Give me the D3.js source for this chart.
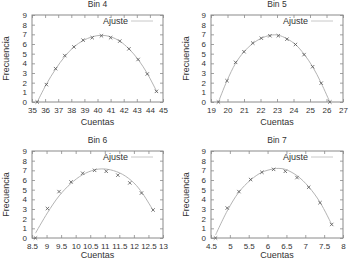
<!DOCTYPE html>
<html><head><meta charset="utf-8">
<script src="https://cdn.jsdelivr.net/npm/d3@7"></script>
<style>body{margin:0;background:#fff}svg{display:block}text{font-family:"Liberation Sans",Arial,sans-serif;fill:#333}</style>
</head><body><svg id="c" width="349" height="261"></svg>
<script>
// Panel titles and axes
const titles = ["Bin 4", "Bin 5", "Bin 6", "Bin 7"];
const xDomains = [[35, 45], [19, 27], [8.5, 13], [4.5, 8]];
const xTicks = [
  [35,36,37,38,39,40,41,42,43,44,45],
  [19,20,21,22,23,24,25,26,27],
  [8.5,9,9.5,10,10.5,11,11.5,12,12.5,13],
  [4.5,5,5.5,6,6.5,7,7.5,8]
];
const yTicks = [0,1,2,3,4,5,6,7,8,9];

// Measured points (Cuentas, Frecuencia)
const bin4X = [35.4,36.1,36.8,37.5,38.2,38.9,39.6,40.3,41.0,41.7,42.4,43.1,43.8,44.5];
const bin4Y = [0,1.8,3.45,4.8,5.7,6.4,6.65,6.85,6.65,6.3,5.5,4.4,2.9,1.1];
const bin5X = [19.45,19.97,20.49,21.0,21.53,22.05,22.57,23.08,23.6,24.12,24.64,25.16,25.68,26.2];
const bin5Y = [0,2.2,4.1,5.2,6.1,6.6,6.85,6.85,6.5,5.95,4.9,3.65,1.95,0];
const bin6X = [8.62,9.03,9.43,9.84,10.24,10.65,11.05,11.45,11.86,12.26,12.66];
const bin6Y = [0,3.05,4.8,5.8,6.7,7.0,6.9,6.5,5.7,4.65,2.9];
const bin7X = [4.62,4.93,5.24,5.55,5.85,6.16,6.47,6.78,7.09,7.39,7.7];
const bin7Y = [0,3.1,4.8,6.05,6.8,7.1,6.9,6.25,5.25,3.65,1.4];

// Fit curve ("Ajuste")
const fit4X = [35.4,36.1,36.8,37.5,38.2,38.9,39.6,40.3,41.0,41.7,42.4,43.1,43.8,44.55];
const fit4Y = [0,1.85,3.4,4.7,5.7,6.35,6.75,6.9,6.75,6.3,5.5,4.4,2.95,1.0];
const fit5X = [19.45,19.97,20.49,21.0,21.53,22.05,22.57,22.85,23.08,23.6,24.12,24.64,25.16,25.68,26.2];
const fit5Y = [0,2.2,4.0,5.2,6.05,6.6,6.9,6.95,6.92,6.55,5.95,4.95,3.65,1.95,0];
const fit6X = [8.62,9.03,9.43,9.84,10.24,10.65,10.9,11.2,11.6,12.0,12.3,12.66];
const fit6Y = [0.5,2.6,4.35,5.65,6.55,7.05,7.15,7.05,6.6,5.7,4.6,2.85];
const fit7X = [4.62,4.93,5.24,5.55,5.85,6.16,6.3,6.47,6.78,7.09,7.39,7.7];
const fit7Y = [0.3,2.8,4.75,6.0,6.8,7.15,7.2,7.1,6.45,5.3,3.7,1.4];

const legendLabel = "Ajuste";
const xLabel = "Cuentas";
const yLabel = "Frecuencia";

const ptsX = [bin4X, bin5X, bin6X, bin7X];
const ptsY = [bin4Y, bin5Y, bin6Y, bin7Y];
const fitsX = [fit4X, fit5X, fit6X, fit7X];
const fitsY = [fit4Y, fit5Y, fit6Y, fit7Y];

const boxes = [
  {l:32, r:163, t:15, b:102, ttl:7, xl:111.5, xt:125, yl:9},
  {l:211, r:343, t:15, b:102, ttl:7, xl:111.5, xt:125, yl:189},
  {l:32, r:163, t:151, b:238, ttl:143, xl:247.5, xt:258, yl:9},
  {l:211, r:343, t:151, b:238, ttl:143, xl:247.5, xt:258, yl:189}
];

const svg = d3.select("#c");
const frameCol = "#8a8a8a";

boxes.forEach((bx, i) => {
  const x = d3.scaleLinear().domain(xDomains[i]).range([bx.l, bx.r]);
  const y = d3.scaleLinear().domain([0, 9]).range([bx.b, bx.t]);
  const g = svg.append("g");

  const ax = (gen, tr) => {
    const a = g.append("g").attr("transform", tr).call(gen);
    a.select(".domain").remove();
    a.selectAll("line").attr("stroke", frameCol).attr("stroke-width", 0.8);
    a.selectAll("text").attr("fill", "#3a3a3a").style("font-size", "8px").style("font-family", '"Liberation Sans",Arial,sans-serif');
    return a;
  };
  const fmt = d => String(d);
  ax(d3.axisBottom(x).tickValues(xTicks[i]).tickSize(-3).tickPadding(5).tickFormat(fmt), `translate(0,${bx.b})`);
  ax(d3.axisTop(x).tickValues(xTicks[i]).tickSize(-3).tickFormat(""), `translate(0,${bx.t})`);
  ax(d3.axisLeft(y).tickValues(yTicks).tickSize(-3).tickPadding(5).tickFormat(fmt), `translate(${bx.l},0)`);
  ax(d3.axisRight(y).tickValues(yTicks).tickSize(-3).tickFormat(""), `translate(${bx.r},0)`);

  g.append("rect").attr("x", bx.l).attr("y", bx.t).attr("width", bx.r - bx.l).attr("height", bx.b - bx.t)
    .attr("fill", "none").attr("stroke", frameCol).attr("stroke-width", 1);

  const fitData = fitsX[i].map((v, k) => [v, fitsY[i][k]]);
  g.append("path").datum(fitData)
    .attr("d", d3.line().x(d => x(d[0])).y(d => y(d[1])).curve(d3.curveCatmullRom))
    .attr("fill", "none").attr("stroke", "#b4b4b4").attr("stroke-width", 1);

  const pd = ptsX[i].map((v, k) => [v, ptsY[i][k]]);
  const s = 1.7;
  g.selectAll("path.pt").data(pd).join("path").attr("class", "pt")
    .attr("d", d => { const cx = x(d[0]), cy = y(d[1]);
      return `M${cx-s},${cy-s}L${cx+s},${cy+s}M${cx-s},${cy+s}L${cx+s},${cy-s}`; })
    .attr("stroke", "#555").attr("stroke-width", 0.8).attr("fill", "none");

  g.append("text").attr("x", bx.r - 35).attr("y", bx.t + 9).attr("text-anchor", "end")
    .style("font-size", "9px").text(legendLabel);
  g.append("line").attr("x1", bx.r - 32).attr("x2", bx.r - 10).attr("y1", bx.t + 6).attr("y2", bx.t + 6)
    .attr("stroke", "#c8c8c8").attr("stroke-width", 1);

  g.append("text").attr("x", (bx.l + bx.r) / 2).attr("y", bx.ttl).attr("text-anchor", "middle")
    .style("font-size", "8.5px").text(titles[i]);
  g.append("text").attr("x", (bx.l + bx.r) / 2).attr("y", bx.xt).attr("text-anchor", "middle")
    .style("font-size", "9px").text(xLabel);
  g.append("text").attr("transform", `translate(${bx.yl},${(bx.t + bx.b) / 2}) rotate(-90)`)
    .attr("text-anchor", "middle").style("font-size", "9px").text(yLabel);
});
</script></body></html>
